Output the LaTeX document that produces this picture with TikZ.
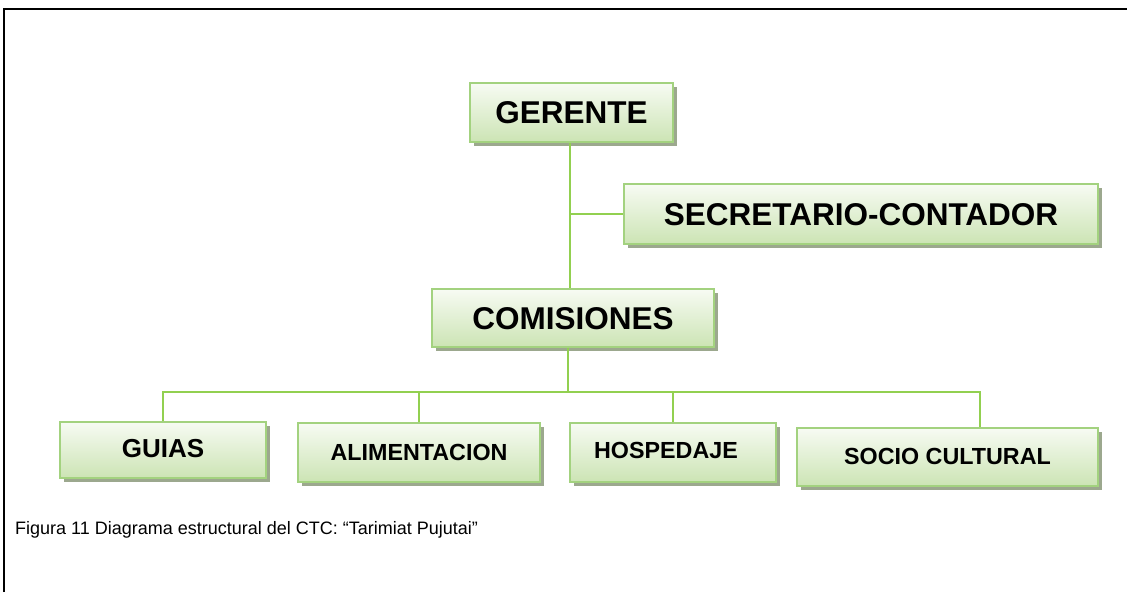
\documentclass[tikz,border=0pt]{standalone}
\usepackage{fontspec}
\setmainfont{Liberation Sans}
\usetikzlibrary{shadows}
\definecolor{bordercol}{HTML}{A3D27F}
\definecolor{linecol}{HTML}{92D050}
\definecolor{topcol}{HTML}{F7FBF3}
\definecolor{botcol}{HTML}{CCE4B4}
\definecolor{shcol}{HTML}{9CA88E}
\tikzset{
  orgbox/.style={rectangle, draw=bordercol, line width=1.6pt, top color=topcol, bottom color=botcol,
    inner sep=0pt, text depth=0pt,
    drop shadow={shadow xshift=4pt, shadow yshift=-4pt, fill=shcol, opacity=1}},
  bigfont/.style={font=\fontsize{31.5}{36}\selectfont\bfseries},
  midfont/.style={font=\fontsize{23.3}{28}\selectfont\bfseries},
  conn/.style={draw=linecol, line width=1.6pt},
}
\begin{document}
\begin{tikzpicture}[x=1pt,y=-1pt]
\useasboundingbox (0,0) rectangle (1127,592);
\draw[line width=2pt] (4,592) -- (4,9) -- (1127,9);

\node[orgbox, bigfont, minimum width=203pt, minimum height=59pt] (ger) at (571.5,112.5) {GERENTE};
\node[orgbox, bigfont, minimum width=474pt, minimum height=60pt] (sec) at (861,214) {SECRETARIO-CONTADOR};
\node[orgbox, bigfont, minimum width=282pt, minimum height=58pt] (com) at (573,318) {COMISIONES};

\node[orgbox, font=\fontsize{26}{30}\selectfont\bfseries, minimum width=206pt, minimum height=56pt] (gui) at (163,450) {\raisebox{3pt}{GUIAS}};
\node[orgbox, midfont, minimum width=242pt, minimum height=59pt] (ali) at (419,452.5) {ALIMENTACION};
\node[orgbox, midfont, minimum width=206pt, minimum height=59pt] (hos) at (673,452.5) {\raisebox{4.5pt}{\hspace*{-14pt}HOSPEDAJE}};
\node[orgbox, midfont, minimum width=301pt, minimum height=58pt] (soc) at (947.5,457) {\raisebox{2pt}{SOCIO CULTURAL}};

\coordinate (trunk) at (570,0);
\coordinate (bus) at (568,392);
\coordinate (socdrop) at (980,0);

\draw[conn] (ger.south -| trunk) -- (com.north -| trunk);
\draw[conn] (sec.west -| trunk) -- (sec.west);
\draw[conn] (com.south -| bus) -- (bus);
\draw[conn] (gui.north) -- (gui.north |- bus) -- (socdrop |- bus) -- (socdrop |- soc.north);
\draw[conn] (ali.north) -- (ali.north |- bus);
\draw[conn] (hos.north) -- (hos.north |- bus);

\node[anchor=base west, font=\fontsize{18}{22}\selectfont, inner sep=0pt] (cap) at (15,534) {Figura 11 Diagrama estructural del CTC: “Tarimiat Pujutai”};
\end{tikzpicture}
\end{document}
